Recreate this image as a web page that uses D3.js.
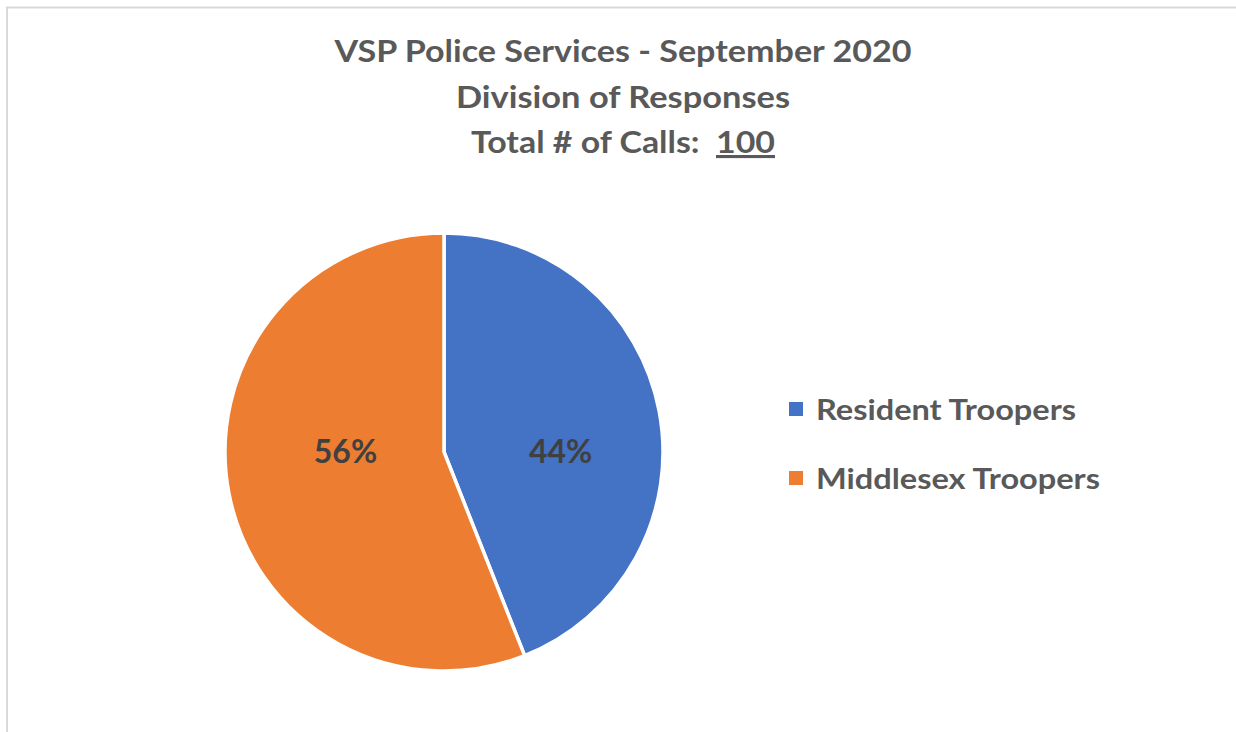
<!DOCTYPE html>
<html>
<head>
<meta charset="utf-8">
<script src="https://cdn.jsdelivr.net/npm/d3@7"></script>
<style>
  body { margin: 0; background: #fff; }
  text { font-family: Lato, "Open Sans", sans-serif; font-weight: bold; }
</style>
</head>
<body>
<div id="chart"></div>
<script>

// data
var categories = ['Resident Troopers', 'Middlesex Troopers']
var values = [44, 56]
var colors = ['#4472C4', '#ED7D31']
var titleLines = ['VSP Police Services - September 2020', 'Division of Responses', 'Total # of Calls:  ']
var totalCalls = '100'

var width = 1236
var height = 732

var svg = d3.select('#chart').append('svg')
  .attr('width', width)
  .attr('height', height)

// chart area border (only top and left show inside the picture)
svg.append('path')
  .attr('d', 'M7,' + height + ' V7.5 H' + width)
  .attr('fill', 'none')
  .attr('stroke', '#d9d9d9')
  .attr('stroke-width', 2)

// title
var titleWidths = [577, 334, 304]
var titleBase = [62, 108, 153]
var title = svg.append('g').attr('fill', '#595959').style('font-size', '31px')

titleLines.forEach(function(line, i) {
  var t = title.append('text')
    .attr('x', 623)
    .attr('y', titleBase[i])
    .attr('text-anchor', 'middle')
    .attr('textLength', titleWidths[i])
    .attr('lengthAdjust', 'spacingAndGlyphs')
    .style('white-space', 'pre')
  t.append('tspan').text(line)
  if (i === titleLines.length - 1) {
    t.append('tspan').text(totalCalls)
      .style('text-decoration', 'underline')
  }
})

// pie
var cx = 444, cy = 452, r = 219

var pie = d3.pie().sort(null).value(function(d) { return d })
var arc = d3.arc().innerRadius(0).outerRadius(r)
var labelArc = d3.arc().innerRadius(0).outerRadius(r)

var g = svg.append('g').attr('transform', 'translate(' + cx + ',' + cy + ')')

var slices = pie(values)

g.selectAll('path.slice')
  .data(slices)
  .enter().append('path')
  .attr('class', 'slice')
  .attr('d', arc)
  .attr('fill', function(d, i) { return colors[i] })
  .attr('stroke', '#fff')
  .attr('stroke-width', 3.5)

g.selectAll('text.label')
  .data(slices)
  .enter().append('text')
  .attr('class', 'label')
  .attr('x', function(d) { return labelArc.centroid(d)[0] + 9 })
  .attr('y', 11)
  .attr('text-anchor', 'middle')
  .attr('fill', '#404040')
  .style('font-size', '32px')
  .text(function(d) { return d.value + '%' })

// legend
var legendY = d3.scalePoint().domain(categories).range([409, 478])
var legendWidths = [260, 284]

var legend = svg.selectAll('g.legend')
  .data(categories)
  .enter().append('g')
  .attr('class', 'legend')
  .attr('transform', function(d) { return 'translate(789,' + legendY(d) + ')' })

legend.append('rect')
  .attr('x', 0)
  .attr('y', -7)
  .attr('width', 14)
  .attr('height', 14)
  .attr('fill', function(d, i) { return colors[i] })

legend.append('text')
  .attr('x', 27)
  .attr('y', 10.5)
  .attr('fill', '#595959')
  .style('font-size', '29px')
  .attr('textLength', function(d, i) { return legendWidths[i] })
  .attr('lengthAdjust', 'spacingAndGlyphs')
  .text(function(d) { return d })

</script>
</body>
</html>
